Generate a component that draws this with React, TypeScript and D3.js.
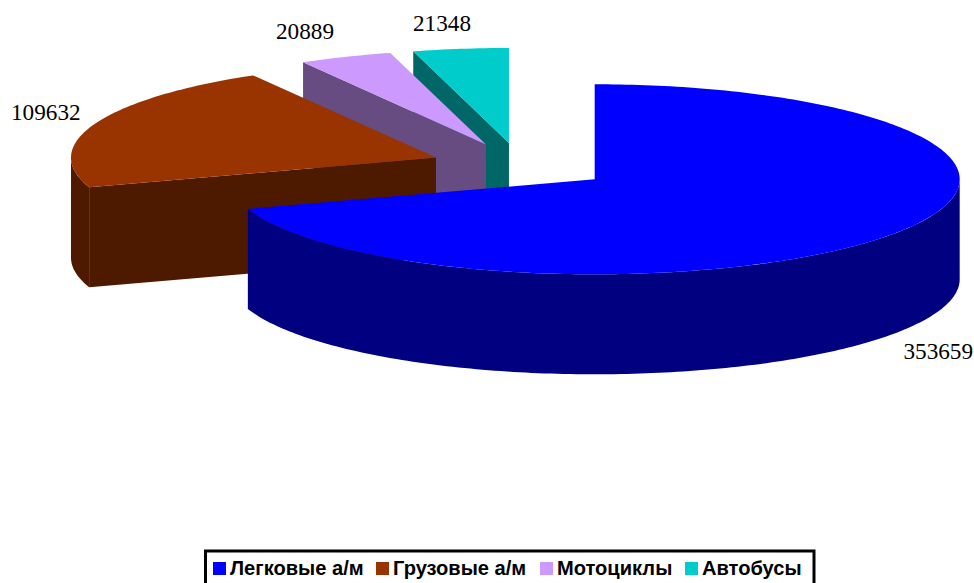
import React from 'react';
import * as d3 from 'd3';

const categories = ['Легковые а/м', 'Грузовые а/м', 'Мотоциклы', 'Автобусы'];
const values = [353659, 109632, 20889, 21348];
const topColors = ['#0000ff', '#993300', '#cc99ff', '#00cccc'];
const wallColors = ['#000080', '#4d1a00', '#664c80', '#006666'];

const width = 974;
const height = 583;

// projection of the tilted pie
const rx = 365;
const ry = 95;
const depth = 100;
const cx0 = 521;
const cy0 = 165.8;
const explodeX = 91;
const explodeY = 23;

const labelPos = [
  { x: 973, y: 359, anchor: 'end' },
  { x: 11, y: 120, anchor: 'start' },
  { x: 276, y: 39, anchor: 'start' },
  { x: 413, y: 31, anchor: 'start' },
];

const legendX = [213, 376, 540, 685];

const pieGen = d3.pie<number>().sort(null).value(d => d);
const arcs = pieGen(values);

const TAU = Math.PI * 2;

const App: React.FC = () => {
  const slices = arcs.map((a, i) => {
    const mid = (a.startAngle + a.endAngle) / 2;
    const cx = cx0 + explodeX * Math.sin(mid);
    const cy = cy0 - explodeY * Math.cos(mid);
    const pt = (t: number, dy = 0): [number, number] => [cx + rx * Math.sin(t), cy - ry * Math.cos(t) + dy];

    const line = d3.line();
    const arcPts = (from: number, to: number, dy = 0) => {
      const n = Math.max(2, Math.ceil(((to - from) / TAU) * 360));
      return d3.range(n + 1).map(k => pt(from + ((to - from) * k) / n, dy));
    };

    // top face
    const top = line([[cx, cy], ...arcPts(a.startAngle, a.endAngle)]) + 'Z';

    // cut face on the start side, seen only when it turns toward the viewer
    const s = pt(a.startAngle);
    const startFace = a.startAngle > Math.PI && a.startAngle < TAU
      ? line([[cx, cy], s, [s[0], s[1] + depth], [cx, cy + depth]]) + 'Z'
      : null;

    // outer wall: the part of the rim on the near half of the ellipse
    const w0 = Math.max(a.startAngle, Math.PI / 2);
    const w1 = Math.min(a.endAngle, (Math.PI * 3) / 2);
    const wall = w1 > w0
      ? line([...arcPts(w0, w1), ...arcPts(w0, w1, depth).reverse()]) + 'Z'
      : null;

    return { i, top, startFace, wall };
  });

  // paint from the back slice to the front one
  const order = [3, 2, 1, 0];

  return (
    <svg
      width={width}
      height={height}
      style={{ position: 'absolute', left: 0, top: 0, background: '#fff' }}
    >
      {order.map(i => {
        const sl = slices[i];
        return (
          <g key={categories[i]}>
            {sl.startFace && <path d={sl.startFace} fill={wallColors[i]} />}
            {sl.wall && <path d={sl.wall} fill={wallColors[i]} />}
            <path d={sl.top} fill={topColors[i]} />
          </g>
        );
      })}

      {values.map((v, i) => (
        <text
          key={v}
          x={labelPos[i].x}
          y={labelPos[i].y}
          textAnchor={labelPos[i].anchor as 'start' | 'end'}
          fontFamily="'Liberation Serif', serif"
          fontSize={23.2}
          fill="#000"
        >
          {v}
        </text>
      ))}

      <rect x={205.5} y={551} width={608.5} height={40} fill="#fff" stroke="#000" strokeWidth={3} />
      {categories.map((c, i) => (
        <g key={c}>
          <rect x={legendX[i]} y={562} width={13} height={13} fill={topColors[i]} />
          <text
            x={legendX[i] + 17}
            y={575}
            fontFamily="'Liberation Sans', Arial, sans-serif"
            fontWeight="bold"
            fontSize={20.1}
            fill="#000"
          >
            {c}
          </text>
        </g>
      ))}
    </svg>
  );
};

export default App;
